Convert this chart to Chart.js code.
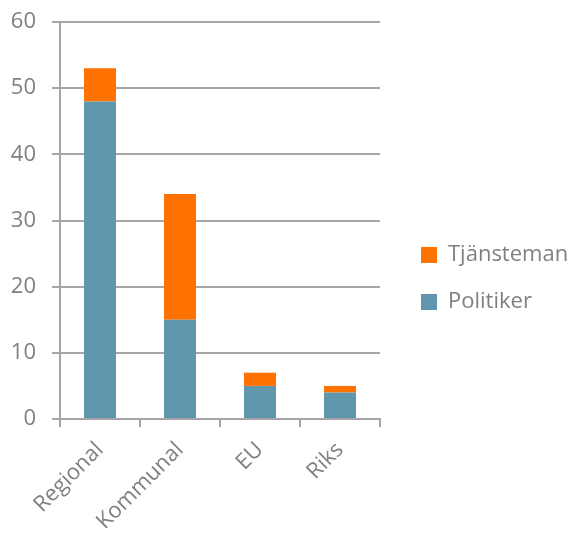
<!DOCTYPE html>
<html>
<head>
<meta charset="utf-8">
<script src="https://cdn.jsdelivr.net/npm/chart.js@4/dist/chart.umd.min.js"></script>
<style>
  body { margin: 0; background: #fff; }
</style>
</head>
<body>
<canvas id="chart" width="569" height="535"></canvas>
<script>
const categories = ["Regional", "Kommunal", "EU", "Riks"];
const politiker = [48, 15, 5, 4];
const tjansteman = [5, 19, 2, 1];
const yTicks = [0, 10, 20, 30, 40, 50, 60];

const gridColor = "#a6a6a6";
const textColor = "#808080";
const fontFamily = "'Open Sans', sans-serif";

const ctx = document.getElementById("chart").getContext("2d");
const chart = new Chart(ctx, {
  type: "bar",
  data: {
    labels: categories,
    datasets: [
      {
        label: "Politiker",
        data: politiker,
        backgroundColor: "#6097ac",
        borderWidth: 0,
        barPercentage: 0.4,
        categoryPercentage: 1
      },
      {
        label: "Tjänsteman",
        data: tjansteman,
        backgroundColor: "#ff7200",
        borderWidth: 0,
        barPercentage: 0.4,
        categoryPercentage: 1
      }
    ]
  },
  options: {
    responsive: false,
    animation: false,
    layout: {
      padding: { top: 22, right: 0, left: 0, bottom: 0 }
    },
    scales: {
      x: {
        stacked: true,
        afterFit: function (axis) {
          axis.height = 116;
          axis.paddingLeft = 0;
          axis.paddingRight = 0;
        },
        grid: {
          offset: true,
          drawOnChartArea: false,
          drawTicks: true,
          tickLength: 8,
          color: gridColor,
          lineWidth: 2
        },
        border: { color: gridColor, width: 2 },
        ticks: {
          color: textColor,
          font: { family: fontFamily, size: 22 },
          minRotation: 45,
          maxRotation: 45,
          padding: 10
        }
      },
      y: {
        stacked: true,
        min: 0,
        max: 60,
        afterFit: function (axis) {
          axis.width = 60;
          axis.paddingTop = 0;
          axis.paddingBottom = 0;
        },
        afterBuildTicks: function (axis) {
          axis.ticks = yTicks.map(v => ({ value: v }));
        },
        grid: {
          color: gridColor,
          lineWidth: 2,
          tickLength: 8
        },
        border: { color: gridColor, width: 2 },
        ticks: {
          color: textColor,
          font: { family: fontFamily, size: 22 },
          padding: 16
        }
      },
      // empty axis that only keeps a gap between the plot and the legend
      gap: {
        type: "linear",
        position: "right",
        display: true,
        afterFit: function (axis) {
          axis.width = 16;
        },
        grid: { display: false },
        border: { display: false },
        ticks: { display: false }
      }
    },
    plugins: {
      legend: {
        position: "right",
        reverse: true,
        maxWidth: 173,
        labels: {
          color: textColor,
          font: { family: fontFamily, size: 22 },
          boxWidth: 16,
          boxHeight: 16,
          padding: 25
        }
      },
      tooltip: { enabled: false }
    }
  }
});
</script>
</body>
</html>
